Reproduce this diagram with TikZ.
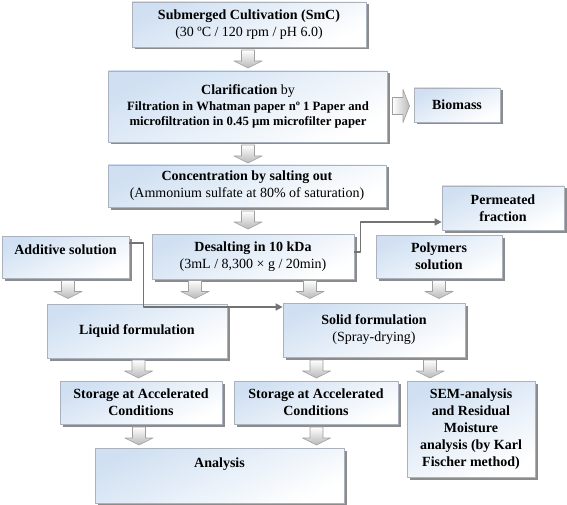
\documentclass[tikz,border=0pt]{standalone}
\usepackage{fontspec}
\setmainfont{Liberation Serif}
\usetikzlibrary{arrows.meta,shadows}
\definecolor{boxblue}{RGB}{208,224,242}
\definecolor{boxline}{RGB}{170,178,190}
\definecolor{flowgray}{RGB}{115,115,115}
\tikzset{
  downarrow/.pic={\draw[draw=gray!75, line width=0.6pt, top color=white, bottom color=gray!55]
    (-6.5,-9)--(6.5,-9)--(6.5,2)--(14,2)--(0,9)--(-14,2)--(-6.5,2)--cycle;},
  rightarrow/.pic={\draw[draw=gray!75, line width=0.6pt, left color=white, right color=gray!55]
    (-8.5,-8.5)--(2,-8.5)--(2,-16.5)--(8.5,0)--(2,16.5)--(2,8.5)--(-8.5,8.5)--cycle;}
}
\begin{document}
\begin{tikzpicture}[x=1pt, y=-1pt, line join=round,
  font=\fontsize{14}{17}\selectfont\bfseries,
  box/.style={draw=boxline, line width=0.7pt, align=center, inner sep=2pt,
    top color=boxblue, bottom color=white, shading angle=25,
    drop shadow={shadow xshift=2.5pt, shadow yshift=-2.5pt, fill=black!45, opacity=1}},
  flow/.style={draw=flowgray, line width=1.6pt, -{Triangle[length=7pt,width=7pt]}}]
  \useasboundingbox (0,0) rectangle (567,505);
  % boxes
  \node[box, minimum width=234, minimum height=45] (smc) at (249,24.5)
    {Submerged Cultivation (SmC)\\\mdseries(30 ºC / 120 rpm / pH 6.0)};
  \node[box, minimum width=279, minimum height=71, font=\fontsize{12.7}{15.5}\selectfont\bfseries] (clar) at (248,106.5)
    {{\fontsize{14}{16}\selectfont Clarification \mdseries by}\\Filtration in Whatman paper nº 1 Paper and\\microfiltration in 0.45 µm microfilter paper};
  \node[box, minimum width=86, minimum height=34] (bio) at (457,105) {Biomass};
  \node[box, minimum width=278, minimum height=42] (conc) at (247,186)
    {Concentration by salting out\\\mdseries(Ammonium sulfate at 80\% of saturation)};
  \node[box, minimum width=122, minimum height=44] (perm) at (503,208) {Permeated\\fraction};
  \node[box, minimum width=127, minimum height=42] (add) at (65.5,257) {Additive solution\\[-2pt]\mbox{}};
  \node[box, minimum width=202, minimum height=45] (desalt) at (253,256.5)
    {Desalting in 10 kDa\\\mdseries(3mL / 8,300 × g / 20min)};
  \node[box, minimum width=126, minimum height=43] (poly) at (439,256.5) {Polymers\\solution};
  \node[box, minimum width=180, minimum height=54] (liquid) at (137,331) {Liquid formulation};
  \node[box, minimum width=182, minimum height=54] (solid) at (374,330)
    {Solid formulation\\\mdseries(Spray-drying)};
  \node[box, minimum width=162, minimum height=43] (stor1) at (141,402.5) {Storage at Accelerated\\Conditions};
  \node[box, minimum width=164, minimum height=43] (stor2) at (316,402.5) {Storage at Accelerated\\Conditions};
  \node[box, minimum width=128, minimum height=96] (sem) at (471,429)
    {SEM-analysis\\and Residual\\Moisture\\analysis (by Karl\\Fischer method)};
  \node[box, minimum width=249, minimum height=55] (anal) at (219.5,475.5) {Analysis\\[8pt]\mbox{}};
  % block arrows
  \foreach \x/\y in {248/59, 248/154, 248/220, 68/289.5, 195/289.5, 310/289.5, 439/289.5,
    138.5/369, 316.5/369, 430/369, 139/436, 316.5/436}
    \pic at (\x,\y) {downarrow};
  \pic at (401,106) {rightarrow};
  % side lines
  \draw[flow] ([yshift=14pt]add.east) -- ++(14,0) |- ([yshift=23pt]solid.west);
  \draw[flow] ([yshift=4.5pt]desalt.east) -- ++(6,0) |- ([yshift=-14pt]perm.west);
\end{tikzpicture}
\end{document}
